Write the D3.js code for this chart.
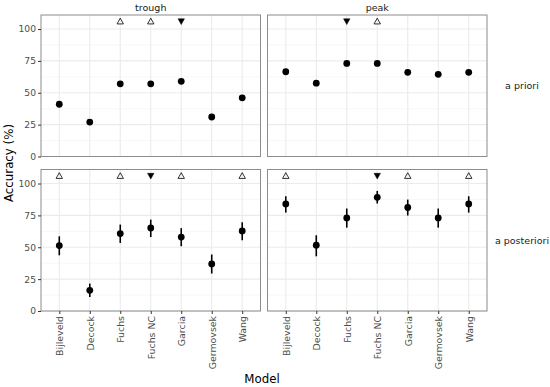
<!DOCTYPE html>
<html><head><meta charset="utf-8">
<script src="https://cdn.jsdelivr.net/npm/d3@7"></script>
<style>body{margin:0;background:#fff}svg{display:block;font-family:"DejaVu Sans",sans-serif}</style>
</head><body><svg id="c" width="550" height="387"></svg>
<script>
const models = ["Bijleveld","Decock","Fuchs","Fuchs NC","Garcia","Germovsek","Wang"];
const columns = ["trough","peak"];
const rows = ["a priori","a posteriori"];
const yTicks = [0,25,50,75,100];
const yMinor = [12.5,37.5,62.5,87.5];

// a priori point estimates
const prioriTrough = [41,27,57,57,59,31,46];
const prioriPeak   = [66.5,57.5,73,73,66,64.5,66];
// a posteriori estimates with intervals
const postTrough   = [51.3,16.2,60.7,65.2,58,36.9,62.8];
const postTroughLo = [43.7,11,53.4,58,50.8,29.4,55.5];
const postTroughHi = [58.6,21.5,67.8,71.7,65,44.3,69.6];
const postPeak     = [84,51.6,73,89.2,81.2,73,84];
const postPeakLo   = [77.2,42.9,65.4,84.3,74.9,65.4,77.2];
const postPeakHi   = [90,59.4,80.4,94.2,87.4,80.4,90];
// significance markers: "up" = open triangle up, "down" = filled triangle down, "" = none
const markPrioriTrough = ["","","up","up","down","",""];
const markPrioriPeak   = ["","","down","up","","",""];
const markPostTrough   = ["up","","up","down","up","","up"];
const markPostPeak     = ["up","","","down","up","","up"];
const markerLevel = 106;

const panels = [
  {row:0,col:0,v:prioriTrough,mk:markPrioriTrough},
  {row:0,col:1,v:prioriPeak,mk:markPrioriPeak},
  {row:1,col:0,v:postTrough,lo:postTroughLo,hi:postTroughHi,mk:markPostTrough},
  {row:1,col:1,v:postPeak,lo:postPeakLo,hi:postPeakHi,mk:markPostPeak}
];

const svg = d3.select("#c");
const colX = [41,267.5], panelW = 219.5;
const rowY = [15,169.5], panelH = 141.5;

panels.forEach(p=>{
  const x0 = colX[p.col], y0 = rowY[p.row];
  const x = d3.scalePoint().domain(models).range([x0,x0+panelW]).padding(0.6);
  const y = d3.scaleLinear().domain([0,111]).range([y0+panelH,y0]);
  const g = svg.append("g");
  g.append("rect").attr("x",x0).attr("y",y0).attr("width",panelW).attr("height",panelH).attr("fill","#fff");
  // grid
  g.selectAll(".mn").data(yMinor).join("line").attr("x1",x0).attr("x2",x0+panelW)
    .attr("y1",d=>y(d)).attr("y2",d=>y(d)).attr("stroke","#f2f2f2").attr("stroke-width",0.6);
  g.selectAll(".mj").data(yTicks).join("line").attr("x1",x0).attr("x2",x0+panelW)
    .attr("y1",d=>y(d)).attr("y2",d=>y(d)).attr("stroke","#ebebeb").attr("stroke-width",1.1);
  g.selectAll(".vx").data(models).join("line").attr("x1",d=>x(d)).attr("x2",d=>x(d))
    .attr("y1",y0).attr("y2",y0+panelH).attr("stroke","#ebebeb").attr("stroke-width",1.1);
  // error bars
  if(p.lo){
    g.selectAll(".eb").data(models).join("line").attr("x1",d=>x(d)).attr("x2",d=>x(d))
      .attr("y1",(d,i)=>y(p.lo[i])).attr("y2",(d,i)=>y(p.hi[i])).attr("stroke","#000").attr("stroke-width",1.6);
  }
  g.selectAll(".pt").data(models).join("circle").attr("cx",d=>x(d)).attr("cy",(d,i)=>y(p.v[i]))
    .attr("r",3.4).attr("fill","#000");
  // markers
  models.forEach((m,i)=>{
    const t = p.mk[i]; if(!t) return;
    const cx = x(m), cy = y(markerLevel), s = 3.2;
    if(t==="up"){
      g.append("path").attr("d",`M${cx},${cy-s}L${cx+s},${cy+s*0.8}L${cx-s},${cy+s*0.8}Z`)
        .attr("fill","none").attr("stroke","#000").attr("stroke-width",0.8);
    } else {
      g.append("path").attr("d",`M${cx},${cy+s}L${cx+s},${cy-s*0.8}L${cx-s},${cy-s*0.8}Z`)
        .attr("fill","#000").attr("stroke","#000").attr("stroke-width",0.5);
    }
  });
  g.append("rect").attr("x",x0).attr("y",y0).attr("width",panelW).attr("height",panelH)
    .attr("fill","none").attr("stroke","#8c8c8c").attr("stroke-width",1);
  // y axis on left column
  if(p.col===0){
    const ax = g.append("g").attr("transform",`translate(${x0},0)`)
      .call(d3.axisLeft(y).tickValues(yTicks).tickSize(3).tickPadding(2));
    ax.select(".domain").remove();
    ax.selectAll("line").attr("stroke","#333");
    ax.selectAll("text").attr("fill","#4d4d4d").attr("font-size","9.2px").attr("font-family","DejaVu Sans");
  }
  // x axis on bottom row
  if(p.row===1){
    const ax = g.append("g").attr("transform",`translate(0,${y0+panelH})`)
      .call(d3.axisBottom(x).tickSize(3).tickPadding(2));
    ax.select(".domain").remove();
    ax.selectAll("line").attr("stroke","#333");
    ax.selectAll("text").attr("fill","#4d4d4d").attr("font-size","9.4px").attr("font-family","DejaVu Sans")
      .attr("transform","rotate(-90)").attr("text-anchor","end")
      .attr("x",-5).attr("y",0).attr("dy","0.35em");
  }
  // strip labels
  if(p.row===0){
    svg.append("text").attr("x",x0+panelW/2).attr("y",y0-4.5).attr("text-anchor","middle")
      .attr("font-size","9.5px").attr("fill","#1a1a1a").text(columns[p.col]);
  }
  if(p.col===1){
    svg.append("text").attr("x",x0+panelW+35).attr("y",y0+panelH/2).attr("dy","0.35em").attr("text-anchor","middle")
      .attr("font-size","9.5px").attr("fill","#1a1a1a").text(rows[p.row]);
  }
});

svg.append("text").attr("transform",`translate(12.5,${(rowY[0]+rowY[1]+panelH)/2}) rotate(-90)`)
  .attr("text-anchor","middle").attr("font-size","11.8px").attr("fill","#000").text("Accuracy (%)");
svg.append("text").attr("x",(colX[0]+colX[1]+panelW)/2 - 2).attr("y",383).attr("text-anchor","middle")
  .attr("font-size","11.8px").attr("fill","#000").text("Model");
</script></body></html>
